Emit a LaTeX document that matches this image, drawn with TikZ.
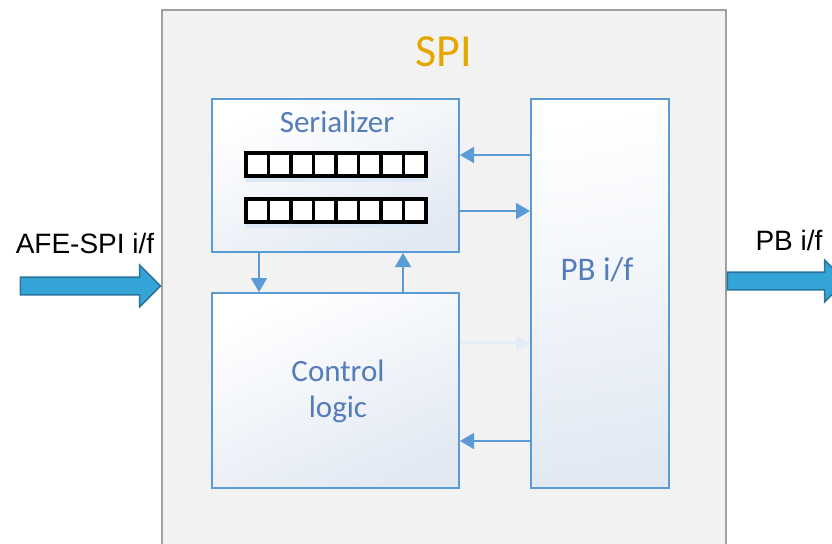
\documentclass[tikz,border=0pt]{standalone}
\usepackage{fontspec}
\setmainfont{Carlito}
\newfontfamily\labelfont{Liberation Sans}
\usetikzlibrary{positioning,arrows.meta,shapes.arrows,shadows}

\definecolor{boxblue}{RGB}{91,155,213}
\definecolor{boxshade}{RGB}{226,233,243}
\definecolor{spigold}{RGB}{229,166,0}
\definecolor{txtblue}{RGB}{84,124,186}
\definecolor{outerfill}{RGB}{242,242,242}
\definecolor{outerline}{RGB}{160,160,160}
\definecolor{busfill}{RGB}{52,163,214}
\definecolor{busline}{RGB}{40,118,160}
\definecolor{faintblue}{RGB}{228,236,246}
\definecolor{regshadow}{RGB}{220,232,245}

\begin{document}
\begin{tikzpicture}[
  x=0.5pt, y=-0.5pt,
  outer/.style={rectangle,draw=outerline,line width=1pt,fill=outerfill,
                minimum width=282pt,minimum height=275pt,inner sep=0pt},
  blk/.style={rectangle,draw=boxblue,line width=1pt,top color=white,
              bottom color=boxshade,shading angle=25,inner sep=0pt},
  cell/.style={rectangle,draw=black,line width=1.6pt,fill=white,inner sep=0pt,
               minimum width=11.25pt,minimum height=11.5pt,
               general shadow={fill=regshadow,shadow yshift=-3pt}},
  blktext/.style={font=\fontsize{15.5}{18}\selectfont,text=txtblue,align=center},
  buslabel/.style={font=\labelfont\fontsize{14}{16}\selectfont,text=black},
  bus/.style={single arrow,draw=busline,fill=busfill,line width=0.8pt,
              inner xsep=0pt,inner ysep=4pt,text height=0pt,text depth=0pt,
              single arrow head extend=6pt,single arrow head indent=0pt},
  arr/.style={-{Triangle[length=7pt,width=8pt]},boxblue,line width=0.9pt},
  farr/.style={arr,faintblue},
]
\useasboundingbox (0,0) rectangle (832,543);
\clip (0,0) rectangle (832,543);

% ---- SPI block ----
\node[outer] (spi) at (444,285) {};
\node[font=\fontsize{23}{27}\selectfont,text=spigold] (spititle) at (444,52) {SPI};

% ---- inner blocks ----
\node[blk,minimum width=123.5pt,minimum height=76.5pt] (ser) at (335.5,175.5) {};
\node[blk,minimum width=123.5pt,minimum height=97.5pt] (ctl) at (335.5,390.5) {};
\node[blk,minimum width=69pt,minimum height=194.5pt,shading angle=10] (pbif) at (600,293.5) {};

\node[blktext] (sertitle) at (337,122) {Serializer};
\node[blktext] (ctltext) at (338,391) {Control\\logic};
\node[blktext,font=\fontsize{16.5}{19}\selectfont] (pbtext) at (597,270) {PB i/f};

% ---- shift registers ----
\foreach \r/\yy in {a/164.5,b/210.5}
  \foreach \i in {1,...,8}
    \node[cell] (reg\r\i) at ({246+22.5*\i-11.25},\yy) {};

% ---- internal connectors ----
\draw[arr] (pbif.west |- 0,155) -- (ser.east |- 0,155);
\draw[arr] (ser.east |- 0,211) -- (pbif.west |- 0,211);
\draw[arr] (ser.south -| 259,0) -- (ctl.north -| 259,0);
\draw[arr] (ctl.north -| 403,0) -- (ser.south -| 403,0);
\draw[farr] (ctl.east |- 0,343) -- (pbif.west |- 0,343);
\draw[arr] (pbif.west |- 0,441) -- (ctl.east |- 0,441);

% ---- external interfaces ----
\node[bus,minimum height=70pt] (afein) at (86,286) {};
\node[buslabel] (afelabel) at (85,243) {AFE-SPI i/f};
\node[bus,minimum height=59pt] (pbout) at (782,281) {};
\node[buslabel] (pblabel) at (789,240) {PB i/f};
\end{tikzpicture}
\end{document}
